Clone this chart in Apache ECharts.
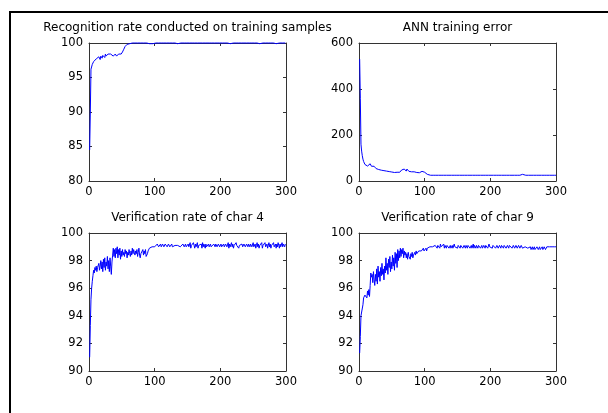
<!DOCTYPE html>
<html><head><meta charset="utf-8">
<script src="https://cdn.jsdelivr.net/npm/echarts@6/dist/echarts.min.js"></script>
<style>html,body{margin:0;padding:0;background:#fff}#c{width:608px;height:413px}</style>
</head><body><div id="c"></div>
<script>
const panelTitles = ['Recognition rate conducted on training samples', 'ANN training error', 'Verification rate of char 4', 'Verification rate of char 9'];
const xRange = [0, 300, 100];
const yRanges = [[80, 100, 5], [0, 600, 200], [90, 100, 2], [90, 100, 2]];

const rec = [84.5,90.0,96.2,96.4,96.9,97.1,97.3,97.2,97.5,97.4,
97.7,97.6,97.9,97.7,98.0,97.8,97.6,98.1,97.9,97.8,
98.2,98.0,98.3,97.9,98.4,98.1,98.3,98.0,98.4,98.2,
98.5,98.3,98.4,98.2,98.5,98.3,98.1,98.3,98.2,98.4,
98.2,98.1,98.3,98.2,98.4,98.3,98.5,98.3,98.4,98.6,
98.7,98.9,99.1,99.3,99.5,99.6,99.7,99.8,99.8,99.9,
99.8,99.9,99.8,99.9,99.9,100,99.9,100,99.9,100,
100,100,100,100,99.9,100,100,100,100,99.9,
100,100,100,100,99.9,100,100,100,100,100,
100,99.9,100,100,100,100,99.9,100,100,100,
100,100,100,100,100,100,100,100,100,100,
100,100,100,100,100,100,100,100,100,99.9,
100,100,100,100,100,100,100,100,100,100,
100,100,100,100,99.9,100,100,100,100,100,
100,99.9,100,100,100,100,100,100,100,99.9,
100,100,100,100,100,100,100,100,100,100,
100,100,100,100,100,100,100,100,100,100,
100,100,100,100,99.9,100,100,100,100,99.9,
100,100,100,100,100,100,100,100,100,99.9,
100,100,100,100,100,100,100,100,100,99.9,
100,100,100,100,100,100,100,100,100,99.9,
100,100,100,100,99.9,100,100,100,100,100,
100,100,100,100,99.9,100,100,100,100,100,
100,100,100,100,100,100,100,100,100,100,
100,100,100,100,99.9,100,100,100,100,100,
100,100,100,100,100,100,100,100,100,99.9,
100,100,100,100,100,100,100,100,100,99.9,
100,100,100,100,100,100,100,100,100,100,
100,100,100,100,99.9,100,100,100,100,100,
100,99.9,100,100,100,100,100,100,100,100];

const err = [530,360,160,130,110,95,85,80,72,75,
68,72,65,70,62,66,75,68,64,70,
62,58,64,56,60,54,58,52,56,50,
54,48,52,47,50,46,49,45,48,44,
47,43,46,42,45,41,44,40,43,39,
42,38,41,37,40,36,42,38,44,39,
43,38,46,40,48,42,50,44,52,45,
48,43,52,46,50,42,47,41,45,40,
44,39,46,40,43,38,44,37,42,38,
41,36,40,35,39,42,37,40,36,38,
34,35,31,29,27,26,25,25,25,25,
25,25,25,25,25,25,25,25,25,25,
25,25,25,25,25,25,25,25,25,25,
25,25,25,25,25,25,25,25,25,25,
25,25,25,25,25,25,25,25,25,25,
25,25,25,25,25,25,25,25,25,25,
25,25,25,25,25,25,25,25,25,27,
25,25,25,25,25,25,25,25,25,25,
25,25,25,25,25,25,25,25,25,25,
25,25,25,25,25,25,25,25,25,25,
25,25,25,25,25,25,25,25,25,25,
25,25,25,28,23,27,25,25,25,25,
25,25,25,25,25,25,25,25,25,25,
25,25,25,25,25,25,25,25,25,25,
25,25,25,25,25,25,25,25,29,25,
25,25,25,25,25,25,25,25,25,25,
25,25,25,25,25,25,25,25,25,25,
25,25,25,25,25,25,25,25,25,25,
25,25,25,25,25,25,25,25,25,25,
25,25,25,25,25,25,25,25,25,25];

const char4 = [91.0,93.3,95.2,96.0,96.5,96.9,97.3,97.1,97.5,97.3,
97.6,97.2,97.5,97.4,97.8,97.3,97.6,98.0,97.4,97.9,
97.2,98.1,97.5,98.2,97.3,97.9,97.6,98.3,97.4,98.0,
97.2,98.2,97.6,97.0,97.9,98.4,98.9,98.3,98.8,98.2,
98.9,98.5,99.0,98.2,98.8,98.4,98.9,98.1,98.7,98.3,
98.8,98.4,98.6,98.3,98.8,98.5,98.7,98.2,98.6,98.4,
98.8,98.5,98.3,98.7,98.4,98.9,98.5,98.8,98.6,98.4,
98.7,98.5,98.8,98.3,98.6,98.9,98.4,98.2,98.5,98.6,
98.6,98.8,98.4,98.7,98.5,98.8,98.3,98.2,98.5,98.7,
98.8,98.9,98.8,99.0,98.9,99.0,99.1,99.0,99.1,99.0,
99.1,99.0,99.1,99.2,99.1,99.0,99.1,99.1,99.2,99.0,
99.1,99.2,99.1,99.0,99.1,99.2,99.1,99.1,99.0,99.1,
99.2,99.1,99.0,99.1,99.1,99.2,99.0,99.1,99.1,99.0,
99.1,99.2,99.1,99.0,99.1,99.1,99.2,99.1,99.0,99.1,
99.1,99.0,99.2,99.1,99.0,99.1,99.2,99.0,99.1,99.1,
99.2,99.0,99.1,99.3,98.9,99.1,99.2,99.0,99.3,99.1,
98.9,99.2,99.0,99.1,99.3,98.9,99.1,99.2,99.0,99.1,
99.2,98.9,99.3,99.0,99.2,99.1,98.9,99.2,99.0,99.1,
99.1,99.2,99.0,99.1,99.2,99.0,99.1,99.1,99.0,99.2,
99.1,99.0,99.2,99.1,99.0,99.1,99.2,99.1,99.0,99.1,
99.2,99.0,99.1,99.1,99.2,99.0,99.1,99.2,99.1,99.0,
99.1,99.3,98.9,99.2,99.0,99.1,99.3,99.0,99.2,98.9,
99.1,99.2,99.0,99.3,99.1,99.0,99.2,98.9,99.1,99.2,
99.0,99.1,99.2,99.0,99.1,99.2,99.1,99.0,99.1,99.2,
99.1,99.0,99.2,99.1,99.0,99.2,99.1,99.0,99.1,99.3,
99.0,99.1,99.2,98.9,99.1,99.3,99.0,99.2,98.9,99.1,
99.2,99.0,99.3,98.9,99.1,99.2,99.0,99.3,99.0,99.1,
99.2,98.9,99.1,99.3,99.0,99.2,98.9,99.1,99.2,99.0,
99.3,99.0,99.1,99.2,98.9,99.2,99.0,99.3,99.1,98.9,
99.2,99.0,99.1,99.3,99.0,99.2,99.1,99.0,99.2,99.2];

const char9 = [91.3,92.5,94.0,94.1,94.0,94.8,95.3,95.2,95.5,95.4,
95.5,95.3,95.8,95.5,95.9,95.4,96.2,97.1,96.8,97.0,
96.4,97.2,96.6,96.2,97.0,96.5,97.4,96.3,97.6,96.8,
97.2,96.5,97.5,96.9,97.8,97.0,97.4,96.6,97.6,97.1,
98.2,97.3,97.8,97.0,98.1,97.5,98.3,97.2,97.9,97.4,
98.4,97.6,98.2,97.3,98.6,97.8,98.5,97.5,98.8,98.0,
98.7,98.2,98.9,98.3,98.8,98.5,98.9,98.2,98.7,98.4,
98.6,98.2,98.5,98.1,98.6,98.3,98.4,98.1,98.5,98.3,
98.6,98.2,98.4,98.3,98.6,98.4,98.7,98.5,98.6,98.5,
98.7,98.6,98.8,98.6,98.7,98.8,98.6,98.9,98.7,98.8,
98.8,98.9,98.7,98.9,98.8,99.0,98.9,99.0,98.9,99.0,
98.9,99.0,99.1,98.9,99.0,99.1,99.0,99.2,98.9,99.1,
99.0,99.1,98.9,99.2,99.0,98.9,99.1,99.0,99.2,98.9,
99.1,99.0,98.9,99.1,99.0,99.2,98.9,99.0,99.1,98.9,
99.0,99.1,98.9,99.0,99.2,99.0,98.9,99.1,99.0,98.9,
99.1,99.2,99.0,98.9,99.1,99.0,99.1,98.9,99.0,99.1,
99.0,98.9,99.1,99.0,98.9,99.1,99.0,99.0,98.9,99.0,
99.1,98.9,99.0,99.2,98.9,99.1,99.0,98.9,99.1,99.0,
98.9,99.1,99.0,99.2,98.9,99.0,99.1,98.9,99.0,99.1,
99.0,98.9,99.1,99.0,99.1,98.9,99.0,99.2,99.0,98.9,
99.1,99.0,98.9,99.1,99.0,99.0,99.1,98.9,99.0,99.1,
99.0,98.9,99.0,99.1,99.0,98.9,99.1,99.0,99.0,98.9,
99.1,99.0,99.2,98.9,99.0,99.1,99.0,98.9,99.1,99.0,
99.0,99.1,98.9,99.0,99.1,99.0,98.9,99.0,99.1,99.0,
98.9,99.0,99.1,99.0,98.9,99.0,99.1,99.0,98.9,99.0,
99.0,98.9,99.0,99.1,98.9,99.0,98.9,99.0,98.8,98.9,
99.0,98.8,98.9,99.0,98.8,98.9,99.0,98.8,98.9,98.8,
99.0,98.9,98.8,98.9,99.0,98.8,98.9,98.9,99.0,98.8,
98.9,99.0,98.9,98.8,98.9,99.0,99.0,98.9,99.1,99.0,
98.9,99.0,99.1,99.0,98.9,99.0,99.0,99.0,99.0,99.0];

const seriesValues = [rec, err, char4, char9];

const FONT = 'DejaVu Sans';
const AX = '#333';
const grids = [
  {left: 89, top: 43, width: 197, height: 138},
  {left: 359, top: 43, width: 197, height: 138},
  {left: 89, top: 233, width: 197, height: 138},
  {left: 359, top: 233, width: 197, height: 138}
];

const xAxes = [], yAxes = [], series = [], titles = [];
grids.forEach((g, i) => {
  const lab = {color: '#000', fontSize: 11.5, fontFamily: FONT};
  const common = {type: 'value', gridIndex: i, axisLine: {show: true, onZero: false, lineStyle: {color: AX, width: 1}},
    axisTick: {show: true, inside: true, length: 3, lineStyle: {color: AX}}, splitLine: {show: false}};
  xAxes.push(Object.assign({}, common, {position: 'bottom', min: xRange[0], max: xRange[1], interval: xRange[2],
    axisLabel: Object.assign({margin: 5}, lab)}));
  xAxes.push(Object.assign({}, common, {position: 'top', min: xRange[0], max: xRange[1], interval: xRange[2],
    axisLabel: {show: false}}));
  const yr = yRanges[i];
  yAxes.push(Object.assign({}, common, {position: 'left', min: yr[0], max: yr[1], interval: yr[2],
    axisLabel: Object.assign({margin: 6}, lab)}));
  yAxes.push(Object.assign({}, common, {position: 'right', min: yr[0], max: yr[1], interval: yr[2],
    axisLabel: {show: false}}));
  series.push({type: 'line', xAxisIndex: i * 2, yAxisIndex: i * 2, showSymbol: false, clip: false,
    lineStyle: {color: '#0000ff', width: 1}, animation: false,
    data: seriesValues[i].map((v, k) => [k + 1, v])});
  titles.push({text: panelTitles[i], left: g.left + g.width / 2, top: g.top - 21, textAlign: 'center', padding: 0,
    textStyle: {fontFamily: FONT, fontSize: 12, fontWeight: 'normal', color: '#000'}});
});

const chart = echarts.init(document.getElementById('c'), null, {renderer: 'canvas'});
chart.setOption({
  backgroundColor: '#fff',
  animation: false,
  title: titles,
  grid: grids,
  xAxis: xAxes,
  yAxis: yAxes,
  series: series,
  graphic: [
    {type: 'line', shape: {x1: 9, y1: 12, x2: 608, y2: 12}, style: {stroke: '#000', lineWidth: 2}},
    {type: 'line', shape: {x1: 10, y1: 11, x2: 10, y2: 413}, style: {stroke: '#000', lineWidth: 2}}
  ]
});
</script>
</body></html>
